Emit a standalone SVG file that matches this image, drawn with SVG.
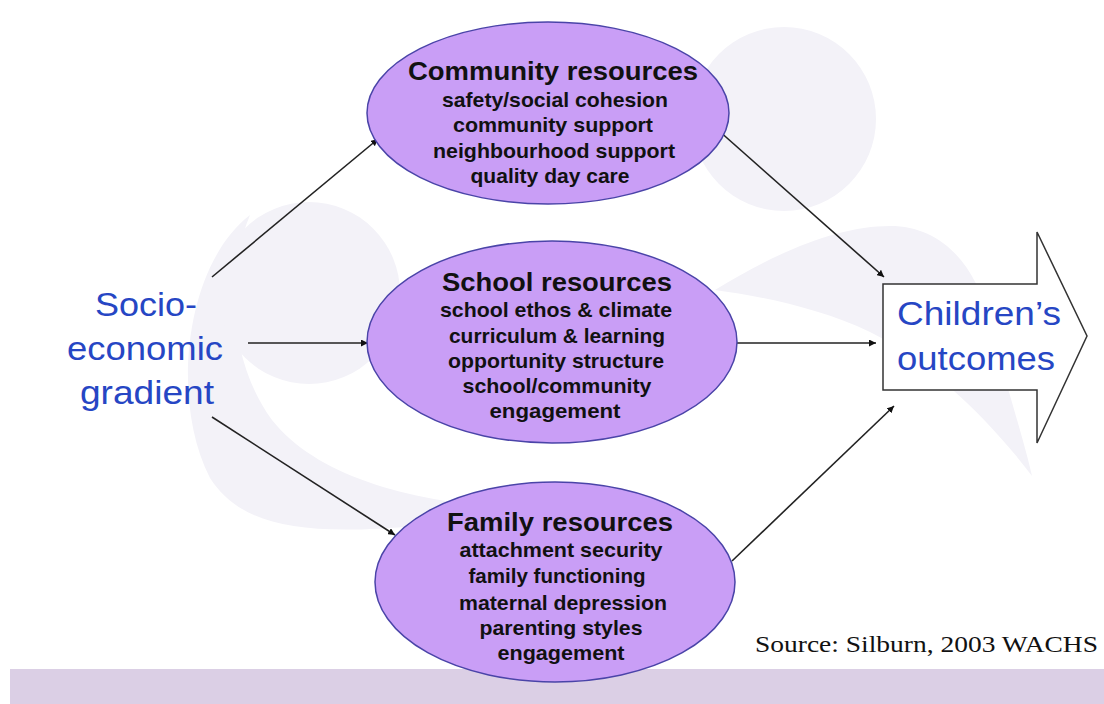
<svg xmlns="http://www.w3.org/2000/svg" width="1104" height="704" viewBox="0 0 1104 704">
  <defs>
    <style>
      .bg { fill: #f3f2f8; }
      .ell { fill: #c99ef6; stroke: #4a44a8; stroke-width: 1.5; }
      .title { font-family: "Liberation Sans", Arial, sans-serif; font-weight: bold; font-size: 25px; fill: #111; text-anchor: middle; }
      .item { font-family: "Liberation Sans", Arial, sans-serif; font-weight: bold; font-size: 21px; fill: #111; text-anchor: middle; }
      .blue { font-family: "Liberation Sans", Arial, sans-serif; font-size: 34px; fill: #2646c4; text-anchor: middle; }
      .src { font-family: "Liberation Serif", "Times New Roman", serif; font-size: 24px; fill: #111; }
      .conn { stroke: #222; stroke-width: 1.6; fill: none; marker-end: url(#ah); }
    </style>
    <marker id="ah" viewBox="0 0 10 10" refX="10" refY="5" markerWidth="7" markerHeight="7" markerUnits="userSpaceOnUse" orient="auto">
      <path d="M0,0 L10,5 L0,10 Z" fill="#111"/>
    </marker>
  </defs>

  <rect x="0" y="0" width="1104" height="704" fill="#ffffff"/>

  <g id="background">
    <path class="bg" d="M250,215 C185,265 170,400 210,478 C250,540 340,540 540,510 C420,505 320,480 272,420 C228,360 226,272 250,215 Z"/>
    <circle class="bg" cx="309" cy="293" r="91"/>
    <circle class="bg" cx="784" cy="119" r="92"/>
    <path class="bg" d="M715,290 C780,250 840,226 890,226 C940,226 975,262 990,322 C1005,382 1024,440 1032,476 C990,420 930,362 870,332 C820,308 760,296 715,290 Z"/>
    <rect x="10" y="669" width="1094" height="35" fill="#dbcfe5"/>
  </g>

  <g id="connectors">
    <line class="conn" x1="212" y1="277" x2="378" y2="139"/>
    <line class="conn" x1="248" y1="343" x2="368" y2="343"/>
    <line class="conn" x1="212" y1="417" x2="395" y2="535"/>
    <line class="conn" x1="718" y1="130" x2="884" y2="277"/>
    <line class="conn" x1="737" y1="343" x2="876" y2="343"/>
    <line class="conn" x1="732" y1="561" x2="894" y2="406"/>
  </g>

  <g id="node-socio">
    <text class="blue" x="146" y="316" textLength="102" lengthAdjust="spacingAndGlyphs">Socio-</text>
    <text class="blue" x="145" y="360" textLength="156" lengthAdjust="spacingAndGlyphs">economic</text>
    <text class="blue" x="147" y="404" textLength="134" lengthAdjust="spacingAndGlyphs">gradient</text>
  </g>

  <g id="node-community">
    <ellipse class="ell" cx="548" cy="113" rx="181" ry="91"/>
    <text class="title" x="553" y="80" textLength="290" lengthAdjust="spacingAndGlyphs">Community resources</text>
    <text class="item" x="555" y="107" textLength="226" lengthAdjust="spacingAndGlyphs">safety/social cohesion</text>
    <text class="item" x="553" y="132" textLength="200" lengthAdjust="spacingAndGlyphs">community support</text>
    <text class="item" x="554" y="158" textLength="242" lengthAdjust="spacingAndGlyphs">neighbourhood support</text>
    <text class="item" x="550" y="183" textLength="159" lengthAdjust="spacingAndGlyphs">quality day care</text>
  </g>

  <g id="node-school">
    <ellipse class="ell" cx="552" cy="342" rx="185" ry="101"/>
    <text class="title" x="557" y="291" textLength="230" lengthAdjust="spacingAndGlyphs">School resources</text>
    <text class="item" x="556" y="317" textLength="232" lengthAdjust="spacingAndGlyphs">school ethos &amp; climate</text>
    <text class="item" x="557" y="343" textLength="216" lengthAdjust="spacingAndGlyphs">curriculum &amp; learning</text>
    <text class="item" x="556" y="368" textLength="216" lengthAdjust="spacingAndGlyphs">opportunity structure</text>
    <text class="item" x="557" y="393" textLength="189" lengthAdjust="spacingAndGlyphs">school/community</text>
    <text class="item" x="555" y="418" textLength="131" lengthAdjust="spacingAndGlyphs">engagement</text>
  </g>

  <g id="node-family">
    <ellipse class="ell" cx="555" cy="582" rx="180" ry="100"/>
    <text class="title" x="560" y="531" textLength="226" lengthAdjust="spacingAndGlyphs">Family resources</text>
    <text class="item" x="561" y="557" textLength="203" lengthAdjust="spacingAndGlyphs">attachment security</text>
    <text class="item" x="557" y="583" textLength="177" lengthAdjust="spacingAndGlyphs">family functioning</text>
    <text class="item" x="563" y="610" textLength="208" lengthAdjust="spacingAndGlyphs">maternal depression</text>
    <text class="item" x="561" y="635" textLength="163" lengthAdjust="spacingAndGlyphs">parenting styles</text>
    <text class="item" x="561" y="660" textLength="127" lengthAdjust="spacingAndGlyphs">engagement</text>
  </g>

  <g id="node-outcomes">
    <path d="M883,284 L1037,284 L1037,232 L1087,336 L1037,443 L1037,390 L883,390 Z" fill="#ffffff" stroke="#333" stroke-width="1.5"/>
    <text class="blue" x="979" y="325" style="font-size:33px" textLength="164" lengthAdjust="spacingAndGlyphs">Children’s</text>
    <text class="blue" x="976" y="370" style="font-size:33px" textLength="158" lengthAdjust="spacingAndGlyphs">outcomes</text>
  </g>

  <g id="source">
    <text class="src" x="755" y="652" textLength="343" lengthAdjust="spacingAndGlyphs">Source: Silburn, 2003 WACHS</text>
  </g>
</svg>
